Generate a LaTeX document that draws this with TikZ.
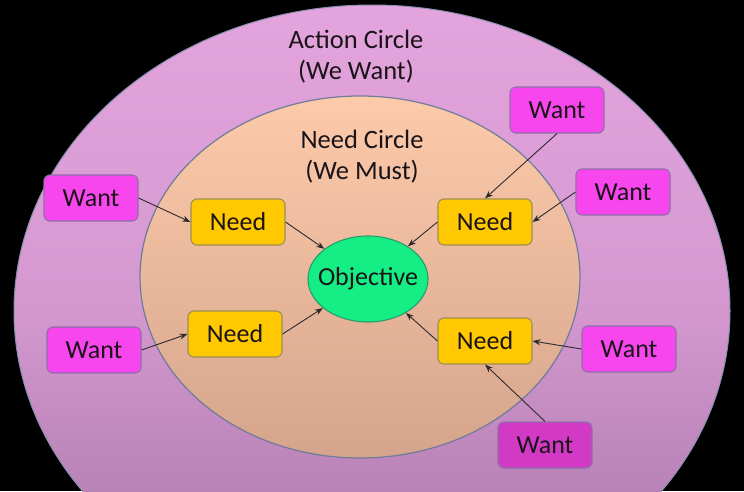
\documentclass[tikz,border=0pt]{standalone}
\usepackage{fontspec}
\setmainfont{Carlito}
\usetikzlibrary{arrows.meta,shapes.geometric}
\definecolor{bgblack}{HTML}{000000}
\definecolor{outertop}{HTML}{E4A4DD}
\definecolor{outerbot}{HTML}{A474A6}
\definecolor{outerline}{HTML}{8A90B0}
\definecolor{innertop}{HTML}{FDCAAA}
\definecolor{innerbot}{HTML}{D5A48C}
\definecolor{innerline}{HTML}{6E7C9A}
\definecolor{wantfill}{HTML}{F746EE}
\definecolor{wantdark}{HTML}{D23AC6}
\definecolor{wantline}{HTML}{8C70A8}
\definecolor{needfill}{HTML}{FFC800}
\definecolor{needline}{HTML}{9C9050}
\definecolor{objfill}{HTML}{14EE84}
\definecolor{objline}{HTML}{2A9C6C}
\definecolor{txt}{HTML}{1A1418}
\definecolor{arr}{HTML}{2E2A2E}
\tikzset{
  box/.style={rounded corners=6pt, minimum width=94pt, minimum height=46pt, inner sep=0pt, line width=1.1pt, text=txt, font=\fontsize{26}{30}\selectfont},
  wantbox/.style={box, fill=wantfill, draw=wantline},
  needbox/.style={box, fill=needfill, draw=needline},
  objnode/.style={ellipse, minimum width=120pt, minimum height=86pt, inner xsep=-8pt, inner ysep=0pt, fill=objfill, draw=objline, line width=1.1pt, text=txt, font=\fontsize{26}{30}\selectfont},
  label/.style={align=center, text=txt, font=\fontsize{26.5}{31}\selectfont},
  link/.style={draw=arr, line width=0.9pt, -{Stealth[length=8pt,width=6pt]}}
}
\begin{document}
\begin{tikzpicture}[x=1pt,y=-1pt]
\useasboundingbox (0,0) rectangle (744,491);
\clip (0,0) rectangle (744,491);
\fill[bgblack] (0,0) rectangle (744,491);
% outer ellipse
\shade[top color=outertop, bottom color=outerbot, middle color=outertop!75!outerbot] (372,311) ellipse [x radius=358pt, y radius=306pt];
\draw[outerline, line width=1pt] (372,311) ellipse [x radius=358pt, y radius=306pt];
% inner ellipse
\shade[top color=innertop, bottom color=innerbot] (360,277) ellipse [x radius=220pt, y radius=181pt];
\draw[innerline, line width=1.2pt] (360,277) ellipse [x radius=220pt, y radius=181pt];
% labels
\node[label] (action) at (356,57) {Action Circle\\(We Want)};
\node[label] (needc) at (362,157) {Need Circle\\(We Must)};
% nodes
\node[objnode] (obj) at (368,279) {Objective};
\node[needbox] (nl1) at (238,222) {Need};
\node[needbox] (nl2) at (235,334) {Need};
\node[needbox] (nr1) at (485,222) {Need};
\node[needbox] (nr2) at (485,341) {Need};
\node[wantbox] (wtl) at (91,198) {Want};
\node[wantbox] (wml) at (94,350) {Want};
\node[wantbox] (wtr) at (557,110) {Want};
\node[wantbox] (wr1) at (623,192) {Want};
\node[wantbox] (wr2) at (629,349) {Want};
\node[wantbox, fill=wantdark] (wb) at (545,445) {Want};
% connectors
\draw[link] (wtl.east) -- (nl1.west);
\draw[link] (wml.east) -- (nl2.west);
\draw[link] (nl1.east) -- (obj);
\draw[link] (nl2.east) -- (obj);
\draw[link] (wtr.south) -- (nr1.north);
\draw[link] (wr1.west) -- (nr1.east);
\draw[link] (nr1.west) -- (obj);
\draw[link] (nr2.west) -- (obj);
\draw[link] (wr2.west) -- (nr2.east);
\draw[link] (wb.north) -- (nr2.south);
\end{tikzpicture}
\end{document}
